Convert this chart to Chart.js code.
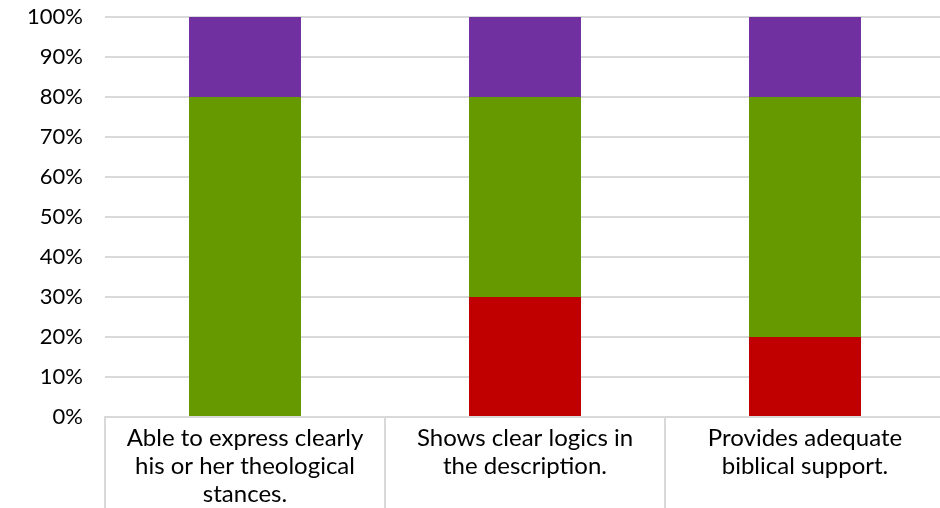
<!DOCTYPE html>
<html>
<head>
<meta charset="utf-8">
<script src="https://cdn.jsdelivr.net/npm/chart.js@4.4.1/dist/chart.umd.min.js"></script>
<style>
  html, body { margin: 0; padding: 0; background: #fff; overflow: hidden; width: 940px; height: 508px; }
  #wrap { width: 945px; height: 508px; position: relative; }
</style>
</head>
<body>
<div id="wrap"><canvas id="c"></canvas></div>
<script>
const categories = [
  ["Able to express clearly", "his or her theological", "stances."],
  ["Shows clear logics in", "the description."],
  ["Provides adequate", "biblical support."]
];
const seriesRed = [0, 30, 20];
const seriesGreen = [80, 50, 60];
const seriesPurple = [20, 20, 20];
const yTicks = [0, 10, 20, 30, 40, 50, 60, 70, 80, 90, 100];

const dividerPlugin = {
  id: 'dividers',
  afterDraw(chart) {
    const xs = chart.scales.x;
    const ctx = chart.ctx;
    ctx.save();
    ctx.strokeStyle = '#d9d9d9';
    ctx.lineWidth = 2;
    for (let i = 0; i <= categories.length; i++) {
      const x = Math.round(xs.getPixelForValue(i - 0.5));
      ctx.beginPath();
      ctx.moveTo(x, chart.chartArea.bottom);
      ctx.lineTo(x, chart.height);
      ctx.stroke();
    }
    ctx.restore();
  }
};

new Chart(document.getElementById('c'), {
  type: 'bar',
  data: {
    labels: categories,
    datasets: [
      { label: 'Red', data: seriesRed, backgroundColor: '#C00000' },
      { label: 'Green', data: seriesGreen, backgroundColor: '#669900' },
      { label: 'Purple', data: seriesPurple, backgroundColor: '#7030A0' }
    ]
  },
  options: {
    responsive: true,
    maintainAspectRatio: false,
    animation: false,
    layout: { padding: { top: 17, right: 0, left: 0, bottom: 0 } },
    plugins: { legend: { display: false }, tooltip: { enabled: false } },
    datasets: { bar: { categoryPercentage: 1, barPercentage: 0.4 } },
    scales: {
      x: {
        stacked: true,
        grid: { display: false, drawTicks: false },
        border: { display: true, color: '#d9d9d9', width: 2 },
        ticks: {
          color: '#000',
          font: { family: 'Lato', size: 24, lineHeight: '28px' },
          padding: 7,
          maxRotation: 0,
          autoSkip: false
        },
        afterFit(scale) {
          scale.height = 91;
          scale.paddingLeft = 0; scale.paddingRight = 0;
        }
      },
      y: {
        stacked: true,
        min: 0, max: 100,
        afterBuildTicks(scale) { scale.ticks = yTicks.map(v => ({ value: v })); },
        grid: { color: '#d9d9d9', lineWidth: 2, drawTicks: false },
        border: { display: false },
        ticks: {
          color: '#000',
          font: { family: 'Lato', size: 22 },
          padding: 22,
          callback: v => v + '%'
        },
        afterFit(scale) {
          scale.width = 105;
          scale.paddingTop = 0; scale.paddingBottom = 0;
        }
      }
    }
  },
  plugins: [dividerPlugin]
});
</script>
</body>
</html>
